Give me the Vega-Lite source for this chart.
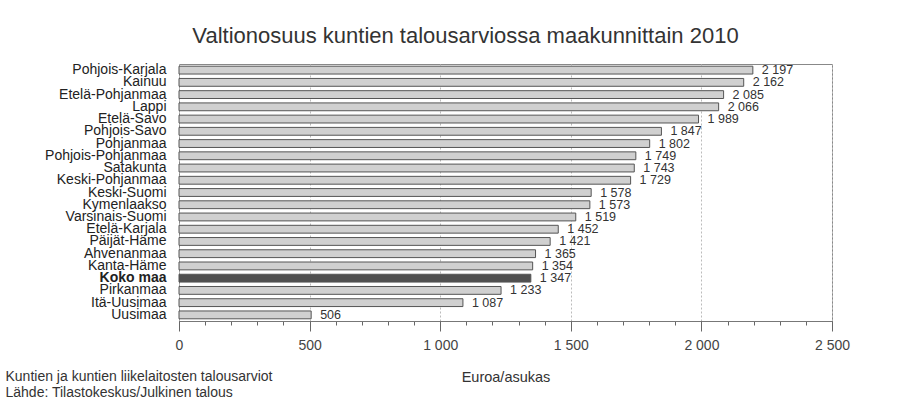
{
  "$schema": "https://vega.github.io/schema/vega-lite/v6.json",
  "autosize": {"type": "none"},
  "padding": {"left": 179, "top": 64, "right": 80, "bottom": 76},
  "width": 653,
  "height": 257,
  "background": "white",
  "title": {
    "text": "Valtionosuus kuntien talousarviossa maakunnittain 2010",
    "anchor": "middle",
    "dx": -40,
    "offset": 15,
    "fontSize": 22,
    "fontWeight": "normal",
    "font": "Liberation Sans",
    "color": "#333"
  },
  "config": {
    "locale": {"number": {"decimal": ",", "thousands": " ", "grouping": [3], "currency": ["", " €"]}},
    "font": "Liberation Sans",
    "view": {"stroke": "#888", "strokeWidth": 1}
  },
  "data": {
    "values": [
      {"maakunta": "Pohjois-Karjala", "euroa": 2197},
      {"maakunta": "Kainuu", "euroa": 2162},
      {"maakunta": "Etelä-Pohjanmaa", "euroa": 2085},
      {"maakunta": "Lappi", "euroa": 2066},
      {"maakunta": "Etelä-Savo", "euroa": 1989},
      {"maakunta": "Pohjois-Savo", "euroa": 1847},
      {"maakunta": "Pohjanmaa", "euroa": 1802},
      {"maakunta": "Pohjois-Pohjanmaa", "euroa": 1749},
      {"maakunta": "Satakunta", "euroa": 1743},
      {"maakunta": "Keski-Pohjanmaa", "euroa": 1729},
      {"maakunta": "Keski-Suomi", "euroa": 1578},
      {"maakunta": "Kymenlaakso", "euroa": 1573},
      {"maakunta": "Varsinais-Suomi", "euroa": 1519},
      {"maakunta": "Etelä-Karjala", "euroa": 1452},
      {"maakunta": "Päijät-Häme", "euroa": 1421},
      {"maakunta": "Ahvenanmaa", "euroa": 1365},
      {"maakunta": "Kanta-Häme", "euroa": 1354},
      {"maakunta": "Koko maa", "euroa": 1347},
      {"maakunta": "Pirkanmaa", "euroa": 1233},
      {"maakunta": "Itä-Uusimaa", "euroa": 1087},
      {"maakunta": "Uusimaa", "euroa": 506}
    ]
  },
  "encoding": {
    "y": {
      "field": "maakunta",
      "type": "nominal",
      "sort": null,
      "scale": {"paddingInner": 0.36, "paddingOuter": 0.18},
      "axis": {
        "title": ["Kuntien ja kuntien liikelaitosten talousarviot", "Lähde: Tilastokeskus/Julkinen talous"],
        "titleAngle": 0,
        "titleX": -174,
        "titleY": 312,
        "titleAlign": "left",
        "titleBaseline": "middle",
        "titleFontSize": 14,
        "titleFontWeight": "normal",
        "titleColor": "#333",
        "titleLineHeight": 16,
        "ticks": false,
        "domain": false,
        "labelPadding": 13,
        "labelFontSize": 14,
        "labelColor": "#222",
        "labelFontWeight": {"condition": {"test": "datum.value === 'Koko maa'", "value": "bold"}, "value": "normal"}
      }
    }
  },
  "resolve": {"axis": {"x": "independent"}},
  "layer": [
    {
      "mark": {"type": "bar", "stroke": "#555", "strokeWidth": 1},
      "encoding": {
        "x": {
          "field": "euroa",
          "type": "quantitative",
          "scale": {"domain": [0, 2500], "nice": false},
          "axis": {
            "orient": "bottom",
            "title": "Euroa/asukas",
            "titleY": 56,
            "titleBaseline": "middle",
            "titleFontSize": 14.5,
            "titleFontWeight": "normal",
            "titleColor": "#333",
            "values": [0,100,200,300,400,500,600,700,800,900,1000,1100,1200,1300,1400,1500,1600,1700,1800,1900,2000,2100,2200,2300,2400,2500],
            "format": ",d",
            "labelExpr": "datum.value % 500 === 0 ? replace(datum.label, ',', ' ') : ''",
            "labelFontSize": 14,
            "labelColor": "#444",
            "labelPadding": 13,
            "labelFlush": false,
            "domainColor": "#777",
            "ticks": true,
            "tickColor": "#666",
            "tickWidth": 1,
            "tickSize": 4,
            "grid": true,
            "gridColor": "#bbb",
            "gridDash": [2, 2],
            "gridOpacity": {"condition": {"test": "datum.value % 500 === 0", "value": 1}, "value": 0}
          }
        },
        "color": {
          "condition": {"test": "datum.maakunta === 'Koko maa'", "value": "#505050"},
          "value": "#d0d0d0"
        }
      }
    },
    {
      "mark": {"type": "text", "align": "left", "dx": 9, "fontSize": 12.5, "color": "#333", "baseline": "middle"},
      "encoding": {
        "x": {
          "field": "euroa",
          "type": "quantitative",
          "axis": {
            "orient": "bottom",
            "title": null,
            "values": [0, 500, 1000, 1500, 2000, 2500],
            "labels": false,
            "domain": false,
            "grid": false,
            "ticks": true,
            "tickColor": "#666",
            "tickWidth": 1,
            "tickSize": 10,
            "offset": 0
          }
        },
        "text": {"field": "euroa", "type": "quantitative", "format": ",d"}
      }
    }
  ]
}
